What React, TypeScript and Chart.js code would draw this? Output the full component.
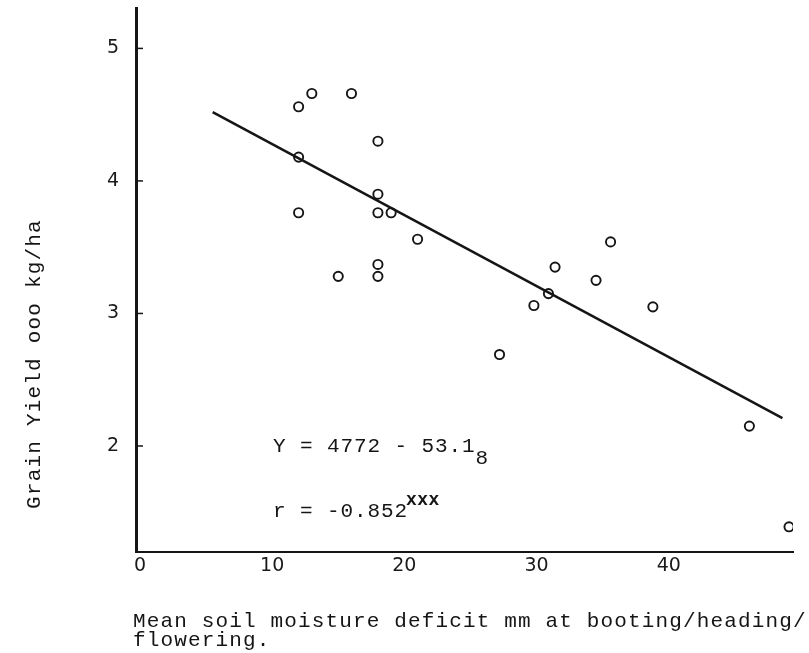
import React, { useEffect, useRef } from "react";
import { Chart, registerables } from "chart.js";

Chart.register(...registerables);

// Mean soil moisture deficit (mm) and grain yield ('000 kg/ha)
const moistureDeficit = [12, 13, 16, 18, 12, 18, 12, 18, 19, 21, 15, 18, 18, 35.6, 31.4, 34.5, 30.9, 29.8, 38.8, 27.2, 46.1, 49.1];
const grainYield = [4.56, 4.66, 4.66, 4.3, 4.18, 3.9, 3.76, 3.76, 3.76, 3.56, 3.28, 3.37, 3.28, 3.54, 3.35, 3.25, 3.15, 3.06, 3.05, 2.69, 2.15, 1.39];

// Regression line end points
const fitX = [5.5, 48.6];
const fitY = [4.52, 2.21];

const xTicks = [0, 10, 20, 30, 40];
const yTicks = [2, 3, 4, 5];

const yTitle = "Grain Yield ooo kg/ha";
const xTitleLines = ["Mean soil moisture deficit mm at booting/heading/", "flowering."];
const eqMain = "Y = 4772 - 53.1";
const eqSub = "8";
const rMain = "r = -0.852";
const rSup = "xxx";

const MONO = "'Liberation Mono', 'DejaVu Sans Mono', monospace";
const INK = "#151515";

function setSpacing(ctx: any, px: number) {
  if ("letterSpacing" in ctx) ctx.letterSpacing = `${px}px`;
}

const annotations = {
  id: "annotations",
  afterDraw(chart: any) {
    const ctx = chart.ctx as CanvasRenderingContext2D;
    const area = chart.chartArea;
    const yScale = chart.scales.y;
    ctx.save();
    // inward ticks on y axis
    ctx.strokeStyle = INK;
    ctx.lineWidth = 1.5;
    yTicks.forEach((v) => {
      const py = yScale.getPixelForValue(v);
      ctx.beginPath();
      ctx.moveTo(area.left, py);
      ctx.lineTo(area.left + 7, py);
      ctx.stroke();
    });

    ctx.fillStyle = INK;
    ctx.textBaseline = "alphabetic";
    ctx.textAlign = "left";

    // y title
    ctx.save();
    ctx.font = `21px ${MONO}`;
    setSpacing(ctx, 1.2);
    ctx.translate(34, 364);
    ctx.rotate(-Math.PI / 2);
    ctx.textAlign = "center";
    ctx.textBaseline = "middle";
    ctx.fillText(yTitle, 0, 0);
    ctx.restore();

    // x title
    ctx.save();
    ctx.font = `21px ${MONO}`;
    setSpacing(ctx, 1.15);
    ctx.fillText(xTitleLines[0], 133, 627);
    ctx.fillText(xTitleLines[1], 133, 646);
    ctx.restore();

    // equation
    ctx.save();
    ctx.font = `21px ${MONO}`;
    setSpacing(ctx, 0.9);
    ctx.fillText(eqMain, 273, 452);
    const w1 = ctx.measureText(eqMain).width;
    ctx.fillText(eqSub, 273 + w1, 464);
    ctx.fillText(rMain, 273, 517);
    const w2 = ctx.measureText(rMain).width;
    ctx.font = `bold 18px ${MONO}`;
    setSpacing(ctx, 0.5);
    ctx.fillText(rSup, 273 + w2 - 2, 505);
    ctx.restore();
    ctx.restore();
  },
};

export default function App() {
  const ref = useRef<HTMLCanvasElement | null>(null);

  useEffect(() => {
    if (!ref.current) return;
    const chart = new Chart(ref.current, {
      type: "scatter",
      data: {
        datasets: [
          {
            type: "line",
            data: fitX.map((x, i) => ({ x, y: fitY[i] })),
            borderColor: INK,
            borderWidth: 2.5,
            pointRadius: 0,
            fill: false,
          } as any,
          {
            data: moistureDeficit.map((x, i) => ({ x, y: grainYield[i] })),
            pointRadius: 4.6,
            pointBorderWidth: 1.9,
            pointBorderColor: INK,
            pointBackgroundColor: "rgba(0,0,0,0)",
            showLine: false,
          },
        ],
      },
      options: {
        animation: false,
        responsive: false,
        devicePixelRatio: 1,
        layout: { padding: { top: 8, right: 16, left: 0, bottom: 0 } },
        plugins: { legend: { display: false }, tooltip: { enabled: false } },
        scales: {
          x: {
            type: "linear",
            min: -0.3,
            max: 49.4,
            afterBuildTicks: (s: any) => {
              s.ticks = xTicks.map((v) => ({ value: v }));
            },
            afterFit: (s: any) => {
              s.height = 101;
              s.paddingLeft = 0;
              s.paddingRight = 0;
            },
            grid: { display: false, drawTicks: false },
            border: { display: true, color: INK, width: 2 },
            ticks: {
              font: { family: "'DejaVu Sans', sans-serif", size: 19 },
              color: "#1a1a1a",
              padding: 3,
              maxRotation: 0,
              autoSkip: false,
            },
          },
          y: {
            type: "linear",
            min: 1.2,
            max: 5.305,
            afterBuildTicks: (s: any) => {
              s.ticks = yTicks.map((v) => ({ value: v }));
            },
            afterFit: (s: any) => {
              s.width = 136;
              s.paddingTop = 0;
              s.paddingBottom = 0;
            },
            grid: { display: false, drawTicks: false },
            border: { display: true, color: INK, width: 3 },
            ticks: {
              font: { family: "'DejaVu Sans', sans-serif", size: 19 },
              color: "#1a1a1a",
              padding: 17,
              autoSkip: false,
            },
          },
        },
      },
      plugins: [annotations],
    });
    return () => chart.destroy();
  }, []);

  return (
    <div style={{ position: "fixed", left: 0, top: 0, width: 809, height: 653, background: "#fff" }}>
      <canvas ref={ref} width={809} height={653} />
    </div>
  );
}
